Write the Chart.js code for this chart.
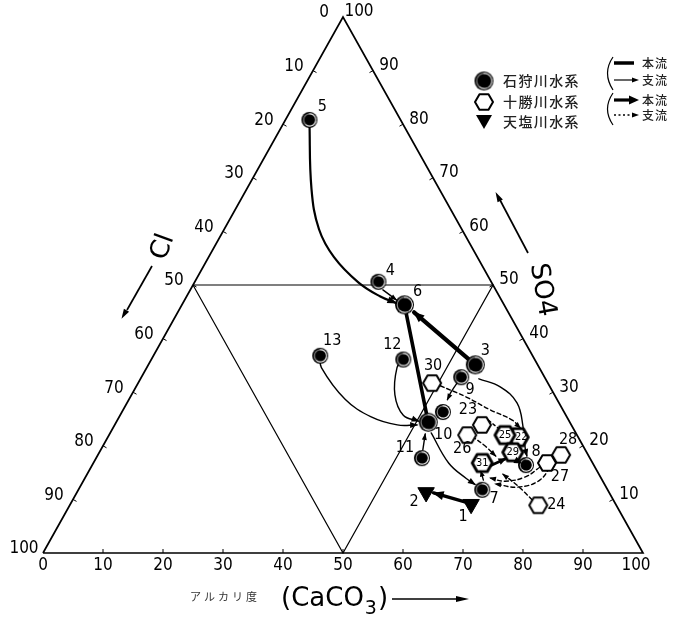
<!DOCTYPE html>
<html>
<head>
<meta charset="utf-8">
<script src="https://cdn.jsdelivr.net/npm/chart.js@4.4.1/dist/chart.umd.min.js"></script>
<style>
  html, body { margin: 0; padding: 0; background: #fff; }
  canvas { display: block; }
</style>
</head>
<body>
<canvas id="c" width="678" height="618"></canvas>
<script>
// Ternary composition of river water: alkalinity (CaCO3) %, SO4 %; Cl = 100 - CaCO3 - SO4.

// 石狩川水系
const ishikariLabels = ['5', '4', '6', '13', '12', '3', '9', '', '10', '11', '8', '7'];
const ishikariCaCO3  = [4.0, 30.6, 37.1, 27.8, 42.0, 54.5, 53.3, 53.5, 52.0, 54.3, 72.3, 67.3];
const ishikariSO4    = [80.8, 50.6, 46.3, 36.8, 36.1, 35.1, 32.8, 26.3, 24.4, 17.7, 16.4, 11.8];

// 十勝川水系
const tokachiLabels = ['30', '23', '26', '28', '27', '24', '22', '25', '29', '31'];
const tokachiCaCO3  = [49.0, 61.2, 59.7, 77.2, 75.6, 78.1, 68.4, 66.0, 68.9, 64.8];
const tokachiSO4    = [31.7, 23.9, 22.0, 18.3, 16.8, 8.9, 21.6, 22.0, 18.8, 16.8];

// 天塩川水系
const teshioLabels = ['1', '2'];
const teshioCaCO3  = [66.8, 58.2];
const teshioSO4    = [9.1, 11.3];

// Tick labels along the three edges
const bottomTicks = ['0', '10', '20', '30', '40', '50', '60', '70', '80', '90', '100'];
const clTicks     = ['0', '10', '20', '30', '40', '50', '60', '70', '80', '90', '100'];
const so4Ticks    = ['10', '20', '30', '40', '50', '60', '70', '80', '90', '100'];

// Flow paths as [CaCO3, SO4] waypoints
const path5to6   = [[4.0, 80.8], [10.8, 67.9], [15.8, 60.4], [20.9, 55.2], [27.3, 50.5], [32.2, 47.9], [35.6, 46.6]];
const path4to6   = [[32.1, 49.1], [35.3, 47.2]];
const path6to10  = [[37.1, 46.3], [52.0, 24.4]];
const path3to6   = [[54.5, 35.1], [39.4, 44.9]];
const path13to10 = [[27.8, 36.8], [29.1, 34.6], [36.0, 28.7], [42.0, 25.4], [47.1, 23.9], [50.4, 23.9]];
const path12to10 = [[42.0, 36.1], [41.7, 34.6], [43.9, 29.5], [47.2, 25.7], [50.3, 24.6]];
const path11to10 = [[53.7, 19.2], [52.6, 22.2]];
const path9toA   = [[53.3, 32.8], [53.0, 30.0], [53.1, 28.6]];
const path3to8   = [[56.4, 32.5], [60.7, 31.0], [65.0, 28.0], [68.2, 23.6], [70.8, 19.2], [71.6, 18.1]];
const path10to7  = [[53.5, 22.4], [59.2, 16.8], [63.6, 13.9], [65.6, 12.8]];
const path1to2   = [[65.7, 9.5], [59.5, 11.2]];
const pathMainA  = [[66.0, 16.0], [68.3, 17.6]];
const pathMainB  = [[69.9, 17.4], [71.3, 16.8]];
const path7to31  = [[66.6, 13.6], [65.4, 15.2]];
const dash30to22 = [[50.6, 31.2], [56.0, 29.1], [61.2, 26.7], [65.8, 24.8], [67.9, 23.3]];
const dash23to25 = [[61.8, 24.8], [64.2, 23.3]];
const dash26to29 = [[60.6, 21.8], [63.8, 19.9], [66.4, 18.1]];
const dash27to31 = [[74.8, 16.0], [73.3, 14.2], [70.3, 13.4], [67.5, 14.0]];
const dash28to31 = [[76.5, 17.0], [76.0, 13.6], [73.0, 12.3], [68.9, 12.9]];
const dash24to29 = [[76.6, 9.9], [72.9, 12.5], [69.3, 14.7]];

// Frame and inner (medial) triangle
const frameCorners = [[0, 0], [100, 0], [0, 100], [0, 0]];
const innerCorners = [[0, 50], [50, 50], [50, 0], [0, 50]];

// Label placement (pixel offsets from the marker)
const labelOffsets = {
  '5': [13, -13], '4': [12, -11], '6': [13, -13], '13': [12, -15], '12': [-11, -15],
  '3': [10, -14], '9': [9, 13], '10': [15, 13], '11': [-17, -10], '8': [10, -13], '7': [12, 9],
  '30': [1, -17], '23': [-14, -15], '26': [-5, 14], '28': [7, -15], '27': [13, 14], '24': [18, 0],
  '22': [3, 0], '25': [0, 0], '29': [0, 0], '31': [0, 0],
  '1': [-8, 13], '2': [-12, 9]
};
const largeDiscs = ['3', '6', '10'];
const boldHexes = ['22', '25', '29', '31'];

const toXY = (c, s) => ({ x: c + s / 2, y: s });
const pts = (cs, ss) => cs.map((c, i) => toXY(c, ss[i]));
const pathXY = (p) => p.map(([c, s]) => toXY(c, s));

// Marker images
function makeDisc(r) {
  const size = Math.ceil(2 * r + 4);
  const cv = document.createElement('canvas');
  cv.width = cv.height = size;
  const g = cv.getContext('2d');
  const m = size / 2;
  g.fillStyle = '#000';
  g.beginPath(); g.arc(m, m, r, 0, Math.PI * 2); g.fill();
  g.strokeStyle = '#fff'; g.lineWidth = 1.1;
  g.beginPath(); g.arc(m + 0.3, m, r - 1.9, -Math.PI * 0.55, Math.PI * 0.75); g.stroke();
  g.strokeStyle = 'rgba(255,255,255,0.55)';
  g.beginPath(); g.arc(m + 0.3, m, r - 1.9, Math.PI * 0.75, Math.PI * 1.45); g.stroke();
  return cv;
}
function makeHex(r, lw) {
  const size = Math.ceil(2 * r + lw + 4);
  const cv = document.createElement('canvas');
  cv.width = cv.height = size;
  const g = cv.getContext('2d');
  const m = size / 2;
  g.beginPath();
  for (let k = 0; k < 6; k++) {
    const a = k * Math.PI / 3;
    const px = m + r * Math.cos(a), py = m + r * Math.sin(a);
    k ? g.lineTo(px, py) : g.moveTo(px, py);
  }
  g.closePath();
  g.fillStyle = '#fff'; g.fill();
  g.strokeStyle = '#000'; g.lineWidth = lw; g.lineJoin = 'round'; g.stroke();
  return cv;
}
const discSmall = makeDisc(8);
const discLarge = makeDisc(9.5);
const hexThin = makeHex(9, 2);
const hexBold = makeHex(10, 2.9);

function curve(path, opts) {
  return Object.assign({
    type: 'line', data: pathXY(path), showLine: true, pointRadius: 0,
    borderColor: '#000', borderWidth: 1.4, tension: 0.4, fill: false, clip: false,
    borderCapStyle: 'round'
  }, opts);
}

const datasets = [
  {
    label: '石狩川水系', data: pts(ishikariCaCO3, ishikariSO4), names: ishikariLabels,
    pointStyle: (ctx) => largeDiscs.includes(ishikariLabels[ctx.dataIndex]) ? discLarge : discSmall,
    clip: false
  },
  {
    label: '十勝川水系', data: pts(tokachiCaCO3, tokachiSO4), names: tokachiLabels,
    pointStyle: (ctx) => boldHexes.includes(tokachiLabels[ctx.dataIndex]) ? hexBold : hexThin,
    clip: false, insideLabels: boldHexes
  },
  {
    label: '天塩川水系', data: pts(teshioCaCO3, teshioSO4), names: teshioLabels,
    pointStyle: 'triangle', rotation: 180, pointRadius: 9.5,
    backgroundColor: '#000', borderColor: '#000', borderWidth: 1, clip: false
  },
  curve(path5to6, { borderWidth: 2.2, arrow: [9, 7] }),
  curve(path4to6, { arrow: [6, 5] }),
  curve(path6to10, { borderWidth: 3.6, tension: 0 }),
  curve(path3to6, { borderWidth: 4.2, tension: 0, arrow: [10, 9] }),
  curve(path13to10, { arrow: [7, 6] }),
  curve(path12to10, { arrow: [7, 6] }),
  curve(path11to10, { arrow: [6, 5] }),
  curve(path9toA, { arrow: [6, 5] }),
  curve(path3to8, { arrow: [7, 6] }),
  curve(path10to7, { arrow: [7, 6] }),
  curve(path1to2, { borderWidth: 3.4, tension: 0, arrow: [10, 9] }),
  curve(pathMainA, { borderWidth: 2.8, tension: 0, arrow: [7, 7] }),
  curve(pathMainB, { borderWidth: 2.8, tension: 0, arrow: [7, 7] }),
  curve(path7to31, { arrow: [5, 5] }),
  curve(dash30to22, { borderDash: [4, 3], arrow: [6, 5] }),
  curve(dash23to25, { borderDash: [3, 3] }),
  curve(dash26to29, { borderDash: [4, 3], arrow: [6, 5] }),
  curve(dash27to31, { borderDash: [4, 3], arrow: [6, 5] }),
  curve(dash28to31, { borderDash: [4, 3], arrow: [6, 5] }),
  curve(dash24to29, { borderDash: [4, 3], arrow: [6, 5] }),
  curve(innerCorners, { borderWidth: 1.2, tension: 0, borderCapStyle: 'butt' }),
  curve(frameCorners, { borderWidth: 1.7, tension: 0, borderJoinStyle: 'miter', borderCapStyle: 'butt' })
];

function arrowHead(ctx, x1, y1, x2, y2, len, wid) {
  const a = Math.atan2(y2 - y1, x2 - x1);
  ctx.save();
  ctx.translate(x2, y2);
  ctx.rotate(a);
  ctx.beginPath();
  ctx.moveTo(1, 0);
  ctx.lineTo(-len, wid / 2);
  ctx.lineTo(-len, -wid / 2);
  ctx.closePath();
  ctx.fillStyle = '#000';
  ctx.fill();
  ctx.restore();
}

const NUM_FONT = '"Liberation Sans Narrow", "DejaVu Sans Condensed", "Liberation Sans", sans-serif';
const CJK_FONT = '"Noto Sans CJK JP", "Noto Sans CJK SC", sans-serif';

function spacedText(ctx, text, x, y, step) {
  [...text].forEach((ch, i) => ctx.fillText(ch, x + i * step, y));
}

const decor = {
  id: 'decor',
  afterDatasetsDraw(chart) {
    const { ctx } = chart;
    const xs = chart.scales.x, ys = chart.scales.y;
    const P = (c, s) => [xs.getPixelForValue(c + s / 2), ys.getPixelForValue(s)];
    ctx.save();

    // arrowheads at path ends
    chart.data.datasets.forEach((ds, i) => {
      if (!ds.arrow) return;
      const meta = chart.getDatasetMeta(i);
      const n = meta.data.length;
      const end = meta.data[n - 1];
      let fx = meta.data[n - 2].x, fy = meta.data[n - 2].y;
      if (end.cp1x !== undefined && Math.hypot(end.cp1x - end.x, end.cp1y - end.y) > 0.5) {
        fx = end.cp1x; fy = end.cp1y;
      }
      arrowHead(ctx, fx, fy, end.x, end.y, ds.arrow[0], ds.arrow[1]);
    });

    // point labels
    ctx.fillStyle = '#000';
    ctx.textAlign = 'center';
    ctx.textBaseline = 'middle';
    [0, 1, 2].forEach((i) => {
      const ds = chart.data.datasets[i];
      const meta = chart.getDatasetMeta(i);
      meta.data.forEach((el, j) => {
        const name = ds.names[j];
        if (!name) return;
        const off = labelOffsets[name] || [10, -12];
        const inside = ds.insideLabels && ds.insideLabels.includes(name);
        ctx.font = (inside ? '11px ' : '16px ') + NUM_FONT;
        ctx.fillText(name, el.x + off[0], el.y + off[1]);
      });
    });

    // edge ticks
    ctx.strokeStyle = '#000';
    ctx.lineWidth = 1;
    for (let v = 10; v < 100; v += 10) {
      let [bx, by] = P(v, 0);
      ctx.beginPath(); ctx.moveTo(bx, by); ctx.lineTo(bx, by - 4); ctx.stroke();
      let [lx, ly] = P(0, 100 - v);
      ctx.beginPath(); ctx.moveTo(lx, ly); ctx.lineTo(lx + 3.5, ly + 2); ctx.stroke();
      let [rx, ry] = P(100 - v, v);
      ctx.beginPath(); ctx.moveTo(rx, ry); ctx.lineTo(rx - 3.5, ry + 2); ctx.stroke();
    }

    // tick labels
    ctx.font = '17px ' + NUM_FONT;
    bottomTicks.forEach((t) => {
      const [px, py] = P(+t, 0);
      ctx.fillText(t, px - (t === '100' ? 7 : 0), py + 13);
    });
    clTicks.forEach((t) => {
      const [px, py] = P(0, 100 - +t);
      ctx.fillText(t, px - 19, py - 4);
    });
    so4Ticks.forEach((t) => {
      const [px, py] = P(100 - +t, +t);
      ctx.fillText(t, px + 16, py - 5);
    });

    // axis titles
    ctx.font = '26px "DejaVu Sans", sans-serif';
    ctx.save(); ctx.translate(163, 247); ctx.rotate(-70 * Math.PI / 180);
    ctx.fillText('Cl', 0, 0); ctx.restore();
    ctx.save(); ctx.translate(542, 290); ctx.rotate(80 * Math.PI / 180);
    ctx.fillText('SO4', 0, 0); ctx.restore();

    ctx.lineWidth = 1.7;
    ctx.beginPath(); ctx.moveTo(152, 266); ctx.lineTo(127, 310); ctx.stroke();
    arrowHead(ctx, 152, 266, 122, 318, 9, 6);
    ctx.beginPath(); ctx.moveTo(528, 253); ctx.lineTo(500, 200); ctx.stroke();
    arrowHead(ctx, 528, 253, 496, 193, 9, 6);

    // bottom title
    ctx.textAlign = 'left';
    ctx.fillStyle = '#333';
    ctx.font = '11px ' + CJK_FONT;
    spacedText(ctx, 'アルカリ度', 190, 597, 14);
    ctx.fillStyle = '#000';
    ctx.textBaseline = 'alphabetic';
    ctx.font = '26px "DejaVu Sans", sans-serif';
    ctx.fillText('(CaCO', 281, 606);
    let w = ctx.measureText('(CaCO').width;
    ctx.font = '19px "DejaVu Sans", sans-serif';
    ctx.fillText('3', 281 + w + 1, 614);
    const w3 = ctx.measureText('3').width;
    ctx.font = '26px "DejaVu Sans", sans-serif';
    ctx.fillText(')', 281 + w + w3 + 2, 606);
    ctx.lineWidth = 1.7;
    ctx.beginPath(); ctx.moveTo(392, 599); ctx.lineTo(458, 599); ctx.stroke();
    arrowHead(ctx, 392, 599, 468, 599, 12, 6);

    // legend: markers
    ctx.drawImage(discLarge, 484 - discLarge.width / 2, 81 - discLarge.height / 2);
    ctx.drawImage(hexThin, 484 - hexThin.width / 2, 102 - hexThin.height / 2);
    ctx.beginPath();
    ctx.moveTo(476, 115); ctx.lineTo(492, 115); ctx.lineTo(484, 129); ctx.closePath();
    ctx.fill();
    ctx.textBaseline = 'middle';
    ctx.fillStyle = '#222';
    ctx.font = '500 14px ' + CJK_FONT;
    spacedText(ctx, '石狩川水系', 503, 81, 15.4);
    spacedText(ctx, '十勝川水系', 503, 102, 15.4);
    spacedText(ctx, '天塩川水系', 503, 122, 15.4);

    // legend: line styles
    ctx.strokeStyle = '#000';
    ctx.lineWidth = 1.2;
    ctx.beginPath(); ctx.moveTo(613, 57); ctx.quadraticCurveTo(602, 73, 613, 90); ctx.stroke();
    ctx.beginPath(); ctx.moveTo(613, 93); ctx.quadraticCurveTo(602, 109, 613, 125); ctx.stroke();
    ctx.lineWidth = 3.5;
    ctx.beginPath(); ctx.moveTo(614, 63); ctx.lineTo(634, 63); ctx.stroke();
    ctx.lineWidth = 1.2;
    ctx.beginPath(); ctx.moveTo(614, 80); ctx.lineTo(632, 80); ctx.stroke();
    arrowHead(ctx, 614, 80, 638, 80, 6, 5);
    ctx.lineWidth = 3.2;
    ctx.beginPath(); ctx.moveTo(614, 100); ctx.lineTo(630, 100); ctx.stroke();
    arrowHead(ctx, 614, 100, 638, 100, 9, 9);
    ctx.lineWidth = 1.3;
    ctx.setLineDash([2, 2.5]);
    ctx.beginPath(); ctx.moveTo(614, 115); ctx.lineTo(632, 115); ctx.stroke();
    ctx.setLineDash([]);
    arrowHead(ctx, 614, 115, 638, 115, 6, 5);
    ctx.font = '500 12px ' + CJK_FONT;
    ['本流', '支流', '本流', '支流'].forEach((t, i) => {
      spacedText(ctx, t, 642, [63, 80, 100, 115][i], 13);
    });

    ctx.restore();
  }
};

new Chart(document.getElementById('c'), {
  type: 'scatter',
  data: { datasets },
  options: {
    responsive: false,
    animation: false,
    devicePixelRatio: 1,
    events: [],
    layout: { padding: { left: 43, right: 35, top: 17, bottom: 65 } },
    scales: {
      x: { type: 'linear', min: 0, max: 100, display: false },
      y: { type: 'linear', min: 0, max: 100, display: false }
    },
    plugins: { legend: { display: false }, tooltip: { enabled: false } }
  },
  plugins: [decor]
});
</script>
</body>
</html>
